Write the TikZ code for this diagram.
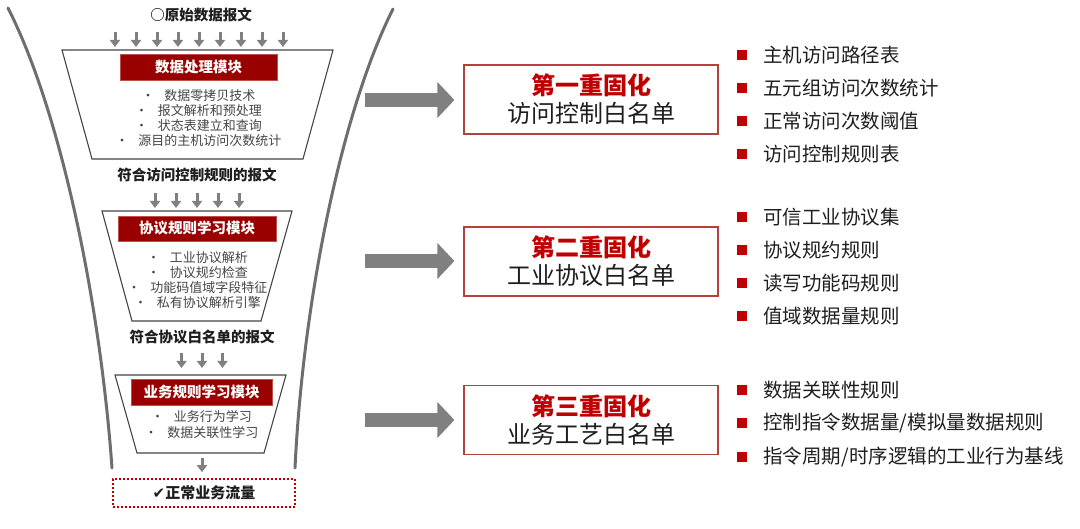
\documentclass[tikz,border=0pt]{standalone}
\usepackage{fontspec}
\setmainfont{Noto Sans CJK SC}
\newfontfamily\symfont{DejaVu Sans}
\usepackage{xcolor}
\usetikzlibrary{arrows.meta,positioning}
\definecolor{wallgrey}{HTML}{6E6E6E}
\definecolor{flowgrey}{HTML}{808080}
\definecolor{modred}{HTML}{990000}
\definecolor{modedge}{HTML}{C0504D}
\definecolor{accentred}{HTML}{C00000}
\definecolor{boxedge}{HTML}{B5403E}
\definecolor{inkdark}{HTML}{1E1E1E}
\definecolor{inkmuted}{HTML}{454545}
\newcommand{\fdot}{\textbullet\hspace{0.75em}}
\tikzset{
  % ---- funnel ---------------------------------------------------------
  wall/.style={draw=wallgrey, line width=3pt, line cap=round},
  trap/.style={draw=inkmuted, line width=1.1pt, line join=miter},
  ftitle/.style={fill=modred, draw=modedge, line width=0.8pt, inner sep=0pt,
    text=white, font=\fontsize{14.5}{16}\selectfont\bfseries},
  fitem/.style={text=inkmuted, align=center, inner sep=0pt,
    font=\fontsize{13}{15}\selectfont},
  flabel/.style={text=inkdark, inner sep=0pt,
    font=\fontsize{14.5}{16}\selectfont\bfseries},
  farrow/.style={draw=flowgrey, line width=3pt,
    -{Triangle[length=7pt,width=10pt]}},
  okbox/.style={draw=accentred, line width=1.6pt, dash pattern=on 1.8pt off 2.2pt,
    minimum width=182pt, minimum height=28pt, inner sep=0pt, text=inkdark,
    font=\fontsize{15}{17}\selectfont\bfseries},
  % ---- stages ---------------------------------------------------------
  bigarrow/.style={draw=flowgrey, line width=14pt,
    -{Triangle[length=17pt,width=35pt]}},
  stagebox/.style={draw=boxedge, line width=1.2pt, minimum width=254pt,
    minimum height=69pt, inner sep=0pt, align=center, text=inkdark,
    font=\fontsize{24}{28}\selectfont},
  rsq/.style={fill=accentred, minimum size=10pt, inner sep=0pt},
  ritem/.style={text=inkdark, inner sep=0pt,
    font=\fontsize{19.5}{22}\selectfont},
}
\begin{document}
\begin{tikzpicture}[x=1pt, y=-1pt]
\useasboundingbox (0,0) rectangle (1080,529);

% ---- funnel walls ----------------------------------------------------
\draw[wall] (8,8) .. controls (60,110) and (100,300) .. (112,468);
\draw[wall] (393,9) .. controls (342,110) and (303,300) .. (295,468);

% ---- stage 1: data processing ----------------------------------------
\node[flabel] (lraw) at (201,15) {○原始数据报文};
\foreach \i in {0,...,8}{
  \coordinate (in\i) at (115+21*\i, 32);
  \draw[farrow] (in\i) -- ++(0,15);
}
\draw[trap] (62,50) -- (333,50) -- (303,159) -- (92,159) -- cycle;
\node[ftitle, minimum width=157pt, minimum height=26pt] (mod1) at (198.5,67) {数据处理模块};
\node[fitem] (items1) at (198.5,118.5) {\fdot 数据零拷贝技术\\ \fdot 报文解析和预处理\\
  \fdot 状态表建立和查询\\ \fdot 源目的主机访问次数统计};

% ---- stage 2: protocol rules -----------------------------------------
\node[flabel] (lacl) at (197,175) {符合访问控制规则的报文};
\foreach \i in {0,...,4}{
  \coordinate (acl\i) at (155+21*\i, 193);
  \draw[farrow] (acl\i) -- ++(0,15);
}
\draw[trap] (102,211) -- (292,211) -- (261,321) -- (132,321) -- cycle;
\node[ftitle, minimum width=158pt, minimum height=25pt] (mod2) at (197,228.5) {协议规则学习模块};
\node[fitem] (items2) at (197.5,280.5) {\fdot 工业协议解析\\ \fdot 协议规约检查\\
  \fdot 功能码值域字段特征\\ \fdot 私有协议解析引擎};

% ---- stage 3: business rules -----------------------------------------
\node[flabel] (lproto) at (202,337) {符合协议白名单的报文};
\foreach \i in {0,...,2}{
  \coordinate (pro\i) at (181.5+20.5*\i, 353);
  \draw[farrow] (pro\i) -- ++(0,15);
}
\draw[trap] (115,375) -- (286,375) -- (264,453) -- (137,453) -- cycle;
\node[ftitle, minimum width=141pt, minimum height=26pt] (mod3) at (201.5,392) {业务规则学习模块};
\node[fitem, font=\fontsize{13}{16}\selectfont] (items3) at (201.5,425) {\fdot 业务行为学习\\ \fdot 数据关联性学习};

% ---- output ------------------------------------------------------------
\node[okbox] (ok) at (204,493) {{\symfont ✔}正常业务流量};
\coordinate (outtop) at (202,458);
\draw[farrow] (outtop) -- ([xshift=-2pt, yshift=6pt]ok.north);

% ---- whitelist stages ------------------------------------------------
\node[stagebox] (wl1) at (591,99.5) {\textcolor{accentred}{\bfseries 第一重固化}\\访问控制白名单};
\node[stagebox] (wl2) at (591,261.5) {\textcolor{accentred}{\bfseries 第二重固化}\\工业协议白名单};
\node[stagebox] (wl3) at (591,420) {\textcolor{accentred}{\bfseries 第三重固化}\\业务工艺白名单};
\foreach \k/\y in {1/100, 2/261, 3/420}{
  \coordinate (src\k) at (365,\y);
  \draw[bigarrow] (src\k) -- ([xshift=-9pt]wl\k.west |- src\k);
}

% ---- rule lists --------------------------------------------------------
\foreach \txt [count=\i] in {主机访问路径表, 五元组访问次数统计, 正常访问次数阈值, 访问控制规则表}{
  \node[rsq] (sqa\i) at (742, 55+33*\i-33) {};
  \node[ritem, right=16pt of sqa\i] (ita\i) {\txt};
}
\foreach \txt [count=\i] in {可信工业协议集, 协议规约规则, 读写功能码规则, 值域数据量规则}{
  \node[rsq] (sqb\i) at (742, 217+33*\i-33) {};
  \node[ritem, right=16pt of sqb\i] (itb\i) {\txt};
}
\foreach \txt [count=\i] in {数据关联性规则, 控制指令数据量/模拟量数据规则, 指令周期/时序逻辑的工业行为基线}{
  \node[rsq] (sqc\i) at (742, 390+33.5*\i-33.5) {};
  \node[ritem, right=16pt of sqc\i] (itc\i) {\txt};
}

\end{tikzpicture}
\end{document}
